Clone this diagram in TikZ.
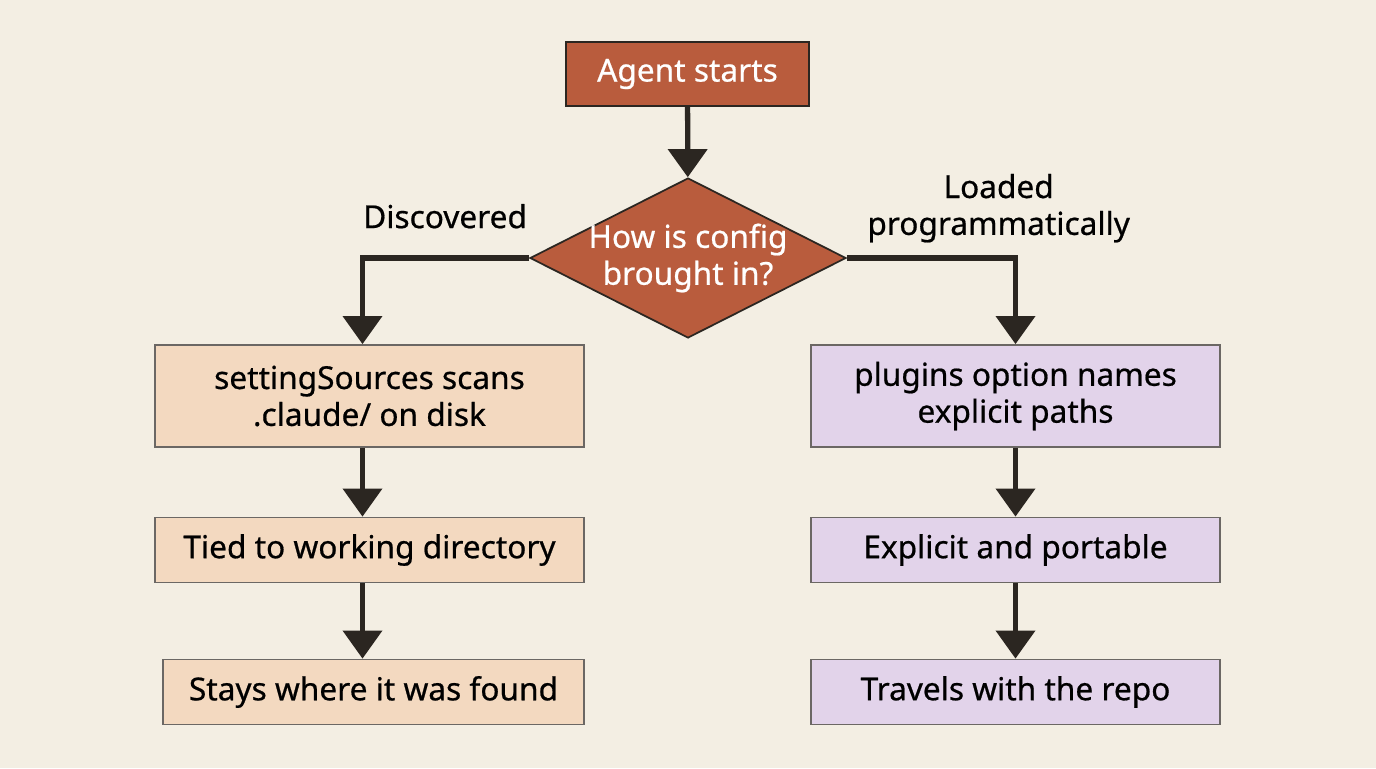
\documentclass[tikz,border=0pt]{standalone}
\usepackage{fontspec}
\setmainfont{Noto Sans}[FakeBold=0.6]
\usetikzlibrary{shapes.geometric,arrows.meta,positioning}
\definecolor{bgcol}{HTML}{F3EEE3}
\definecolor{rust}{HTML}{B95C3D}
\definecolor{peach}{HTML}{F3D9C0}
\definecolor{lilac}{HTML}{E2D3EA}
\definecolor{ink}{HTML}{2B2621}
\begin{document}
\begin{tikzpicture}[
    x=0.02cm, y=-0.02cm,
    font=\fontsize{18}{21}\selectfont\bfseries,
    start/.style={rectangle, draw=ink, line width=1pt, fill=rust, text=white, minimum width=243*0.02cm, minimum height=64*0.02cm},
    decision/.style={diamond, draw=ink, line width=1pt, fill=rust, text=white, align=center, aspect=1.975, minimum width=316*0.02cm, minimum height=160*0.02cm, inner sep=-3pt},
    lblock/.style={rectangle, draw=ink!70, line width=1pt, fill=peach, align=center, minimum width=429*0.02cm},
    rblock/.style={rectangle, draw=ink!70, line width=1pt, fill=lilac, align=center, minimum width=409*0.02cm},
    line/.style={draw=ink, line width=3pt, -{Triangle[width=22pt,length=16pt]}}
]
\fill[bgcol] (0,0) rectangle (1376,768);

% Nodes
\node[start] (start) at (687.5,74) {Agent starts};
\node[decision] (cfg) at (688,258) {How is config\\brought in?};

\node[lblock, minimum height=102*0.02cm] (scan) at (369.5,396) {settingSources scans\\.claude/ on disk};
\node[lblock, minimum height=65*0.02cm] (tied) at (369.5,550) {Tied to working directory};
\node[lblock, minimum width=421*0.02cm, minimum height=65*0.02cm] (stays) at (373.5,692) {Stays where it was found};

\node[rblock, minimum height=102*0.02cm] (plug) at (1015.5,396) {plugins option names\\explicit paths};
\node[rblock, minimum height=65*0.02cm] (port) at (1015.5,550) {Explicit and portable};
\node[rblock, minimum height=65*0.02cm] (trav) at (1015.5,692) {Travels with the repo};

% Edges
\path[line] (start) -- (cfg);
\path[line] (cfg.west) -| node[pos=0.5, above=12pt, xshift=47pt] {Discovered} ([xshift=-7*0.02cm]scan.north);
\path[line] (cfg.east) -| node[pos=0.45, above=4pt, align=center] {Loaded\\programmatically} (plug.north);
\path[line] ([xshift=-7*0.02cm]scan.south) -- ([xshift=-7*0.02cm]tied.north);
\path[line] ([xshift=-7*0.02cm]tied.south) -- ([xshift=-7*0.02cm]tied.south |- stays.north);
\path[line] (plug) -- (port);
\path[line] (port) -- (trav);
\end{tikzpicture}
\end{document}
